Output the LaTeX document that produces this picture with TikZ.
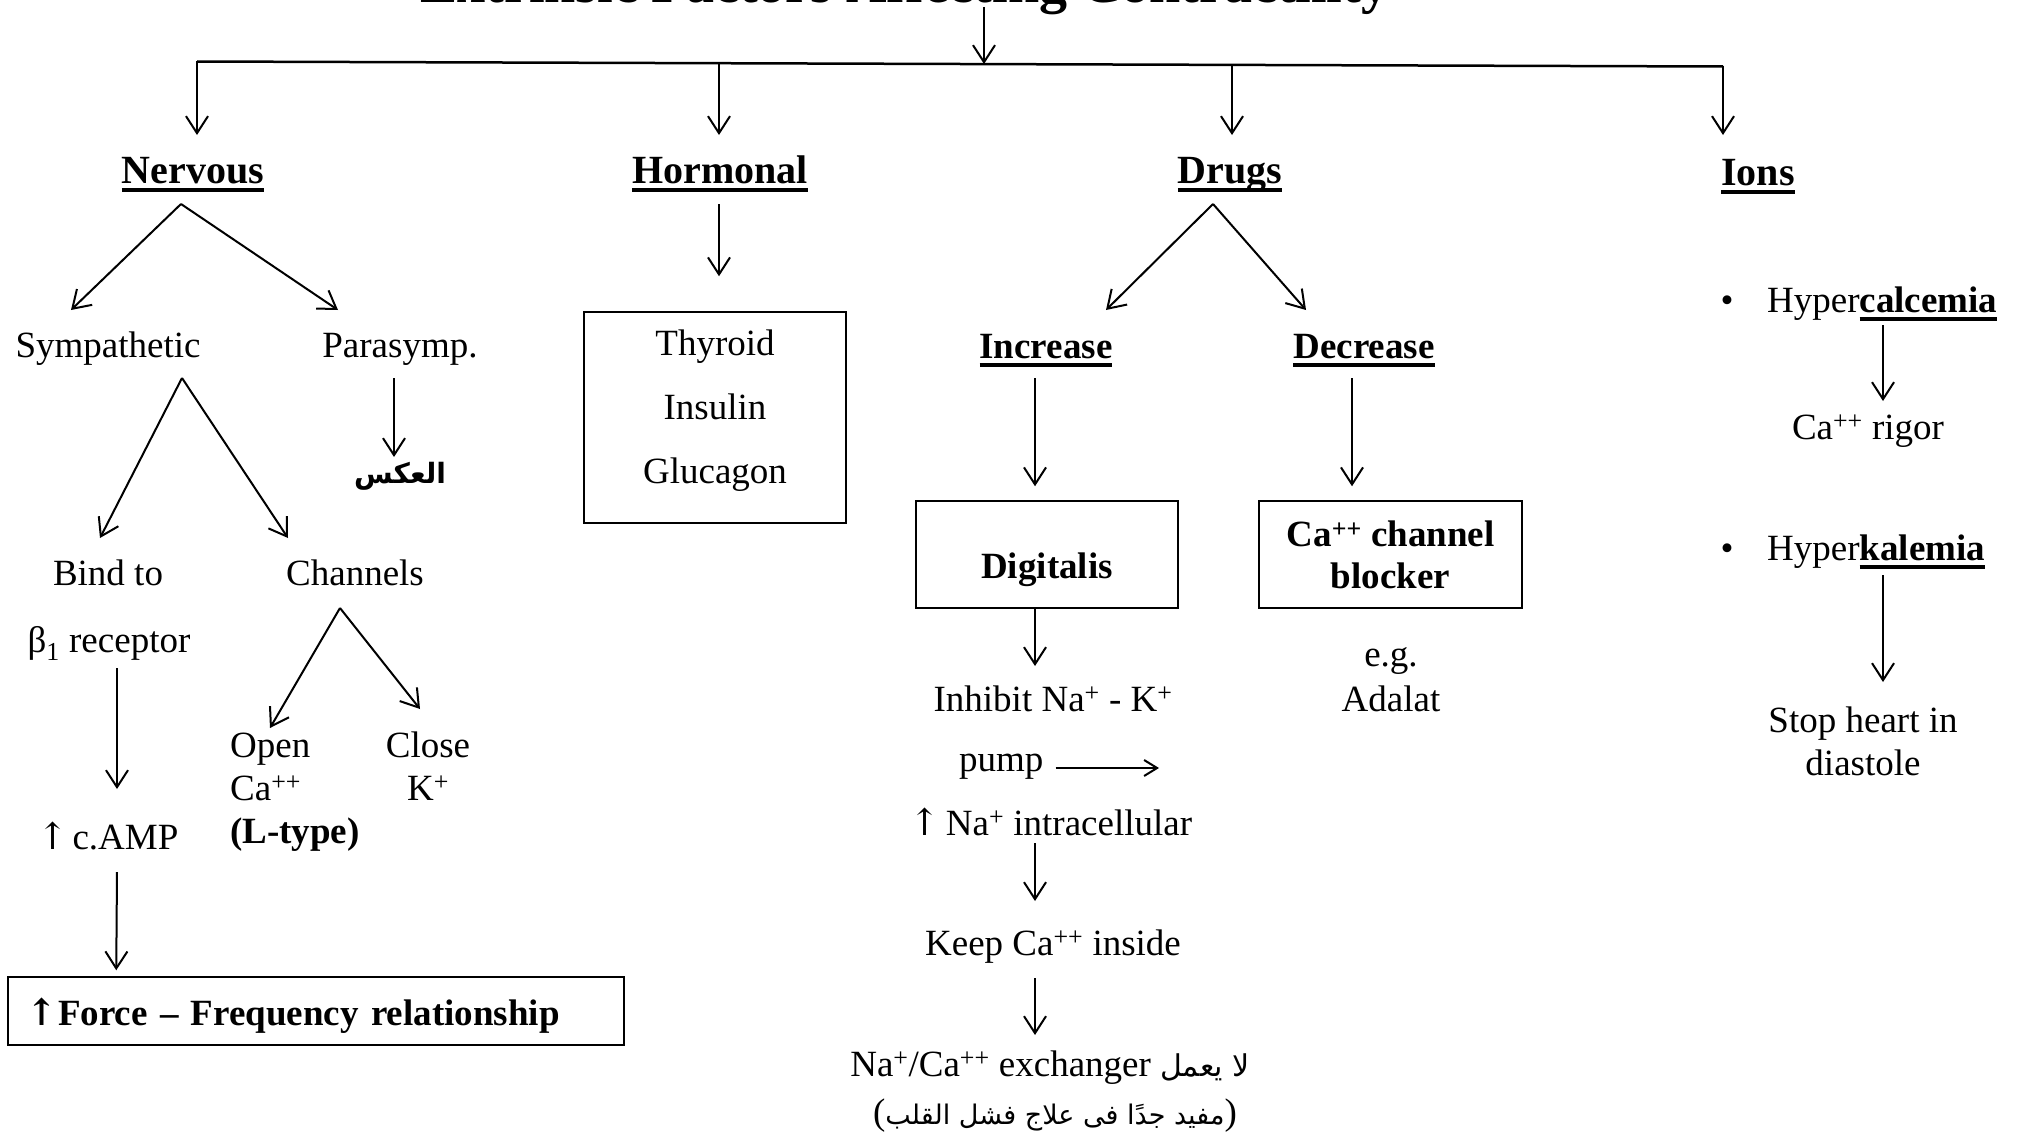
\documentclass[tikz,border=0pt]{standalone}
\usepackage{fontspec}
\setmainfont{Liberation Serif}
\newfontfamily\arabicfont[Script=Arabic]{DejaVu Sans}
\newfontfamily\arrowfont{DejaVu Serif}
\usetikzlibrary{arrows.meta,calc}
\TeXXeTstate=1
\newcommand{\ulb}[1]{\setbox0\hbox{#1}\rlap{\rule[-8.5pt]{\wd0}{3.2pt}}\box0}
\newcommand{\uparr}{{\arrowfont ↑}}
\begin{document}
\begin{tikzpicture}[x=1pt,y=-1pt,
  every node/.style={inner sep=0pt, font=\fontsize{37}{44}\selectfont},
  hd/.style={font=\fontsize{40}{48}\selectfont\bfseries},
  bd/.style={font=\fontsize{37}{44}\selectfont\bfseries},
  arr/.style={line width=2pt, -{Straight Barb[length=17pt,width=22pt,line width=2pt]}},
  smallarr/.style={line width=2pt, -{Straight Barb[length=13pt,width=16pt,line width=2pt]}},
  boxed/.style={draw, line width=1.5pt}]
\useasboundingbox (0,0) rectangle (2024,1148);

% title and top tree
\node[font=\fontsize{56}{60}\selectfont\bfseries, anchor=base west] (title) at (420,3) {Extrinsic Factors Affecting Contractility};
\coordinate (L) at (197,61.5);
\coordinate (R) at (1723,66.5);
\coordinate (hub) at (984,64);
\coordinate (b2) at (719,63.2);
\coordinate (b3) at (1232,64.8);
\draw[line width=2.5pt] (L) -- (R);
\draw[arr] ($(title.base west)+(564,4)$) -- (hub);

\node[hd, anchor=base] (nerv) at (193,183) {\ulb{Nervous}};
\node[hd, anchor=base] (horm) at (720,183) {\ulb{Hormonal}};
\node[hd, anchor=base] (drugs) at (1230,183) {\ulb{Drugs}};
\node[hd, anchor=base] (ions) at (1758,185) {\ulb{Ions}};
\draw[arr] (L) -- ($(nerv.base)+(4,-48)$);
\draw[arr] (b2) -- ($(horm.base)+(-1,-48)$);
\draw[arr] (b3) -- ($(drugs.base)+(2,-48)$);
\draw[arr] (R) -- ($(ions.base)+(-35,-50)$);

% Nervous
\node[anchor=base] (symp) at (108,357) {Sympathetic};
\node[anchor=base] (para) at (400,357) {Parasymp.};
\draw[arr] ($(nerv.base)+(-12,21)$) -- ($(symp.base)+(-37,-47)$);
\draw[arr] ($(nerv.base)+(-12,21)$) -- ($(para.base)+(-62,-47)$);
\node[anchor=base, font=\arabicfont\fontsize{28}{34}\selectfont\bfseries] (aks) at (400,483) {\beginR العكس\endR};
\draw[arr] ($(para.base)+(-6,21)$) -- ($(aks.base)+(-6,-26)$);
\node[anchor=base] (bind) at (108,585) {Bind to};
\node[anchor=base] (chan) at (355,585) {Channels};
\draw[arr] ($(symp.base)+(74,21)$) -- ($(bind.base)+(-8,-47)$);
\draw[arr] ($(symp.base)+(74,21)$) -- ($(chan.base)+(-67,-47)$);
\node[anchor=base] (beta) at (109,652) {β\textsubscript{1} receptor};
\node[anchor=base] (camp) at (108,849) {\uparr\hspace{4pt}c.AMP};
\draw[arr] ($(beta.base)+(8,16)$) -- ($(camp.base)+(9,-60)$);
\node[boxed, bd, minimum width=616pt, minimum height=68pt, text width=580pt, inner xsep=18pt, align=left, text height=30pt, text depth=2pt] (force) at (316,1011) {{\arrowfont\bfseries ↑}\hspace{1pt}Force – Frequency relationship};
\draw[arr] ($(camp.base)+(9,23)$) -- ($(force.north west)+(109,-6)$);
\node[anchor=base west, align=left, font=\fontsize{37}{43}\selectfont] (open) at (230,843) {Open\\Ca\textsuperscript{++}\\\textbf{(L-type)}};
\node[anchor=base, align=center, font=\fontsize{37}{43}\selectfont] (close) at (428,800) {Close\\K\textsuperscript{+}};
\draw[arr] ($(chan.base)+(-15,23)$) -- ($(open.base west)+(40,-115)$);
\draw[arr] ($(chan.base)+(-15,23)$) -- ($(close.base)+(-8,-91)$);

% Hormonal
\node[boxed, minimum width=262pt, minimum height=211pt, align=center, font=\fontsize{37}{64}\selectfont] (hbox) at (715,417.5) {Thyroid\\Insulin\\Glucagon\rule[-22pt]{0pt}{0pt}};
\draw[arr] ($(horm.base)+(-1,21)$) -- ($(hbox.north)+(4,-35)$);

% Drugs
\node[bd, anchor=base] (inc) at (1046,358) {\ulb{Increase}};
\node[bd, anchor=base] (dec) at (1364,358) {\ulb{Decrease}};
\draw[arr] ($(drugs.base)+(-17,21)$) -- ($(inc.base)+(60,-48)$);
\draw[arr] ($(drugs.base)+(-17,21)$) -- ($(dec.base)+(-58,-48)$);
\node[boxed, bd, minimum width=262pt, minimum height=107pt, text height=49pt, text depth=2pt] (digi) at (1047,554.5) {Digitalis};
\node[boxed, minimum width=263pt, minimum height=107pt, align=center, font=\fontsize{37}{42}\selectfont\bfseries] (cab) at (1390.5,554.5) {Ca\textsuperscript{++} channel\\blocker};
\draw[arr] ($(inc.base)+(-11,20)$) -- ($(digi.north)+(-12,-14)$);
\draw[arr] ($(dec.base)+(-12,20)$) -- ($(cab.north)+(-38.5,-14)$);
\node[anchor=base, align=center, font=\fontsize{37}{45}\selectfont] (eg) at (1391,711) {e.g.\\Adalat};
\node[anchor=base] (inh) at (1053,711) {Inhibit Na\textsuperscript{+} - K\textsuperscript{+}};
\draw[arr] ($(digi.south)+(-12,0)$) -- ($(inh.base)+(-18,-45)$);
\node[anchor=base west] (pump) at (959,771) {pump};
\coordinate (pumpend) at (1159,768);
\draw[smallarr] ($(pump.base east)+(12,-3)$) -- (pumpend);
\node[anchor=base] (na) at (1051,835) {\uparr\hspace{5pt}Na\textsuperscript{+} intracellular};
\node[anchor=base] (keep) at (1053,955) {Keep Ca\textsuperscript{++} inside};
\node[anchor=base] (exch) at (1050,1076) {Na\textsuperscript{+}/Ca\textsuperscript{++} exchanger {\arabicfont\fontsize{30}{36}\selectfont\beginR لا يعمل\endR}};
\node[anchor=base] (useful) at (1055,1124) {({\arabicfont\fontsize{27}{34}\selectfont\beginR مفيد جدًا فى علاج فشل القلب\endR})};
\draw[arr] ($(na.base)+(-16,8)$) -- ($(keep.base)+(-18,-54)$);
\draw[arr] ($(keep.base)+(-18,23)$) -- ($(exch.base)+(-15,-41)$);

% Ions
\node[anchor=base] (bul1) at (1727,312) {•};
\node[anchor=base west] (hypc) at (1767,312) {Hyper\ulb{\textbf{calcemia}}};
\node[anchor=base] (carig) at (1868,439) {Ca\textsuperscript{++} rigor};
\draw[arr] ($(hypc.base west)+(116,13)$) -- ($(carig.base)+(15,-38)$);
\node[anchor=base] (bul2) at (1727,560) {•};
\node[anchor=base west] (hypk) at (1767,560) {Hyper\ulb{\textbf{kalemia}}};
\node[anchor=base, align=center, font=\fontsize{37}{43}\selectfont] (stop) at (1863,775) {Stop heart in\\diastole};
\draw[arr] ($(hypk.base west)+(116,15)$) -- ($(stop.base)+(20,-93)$);
\end{tikzpicture}
\end{document}
